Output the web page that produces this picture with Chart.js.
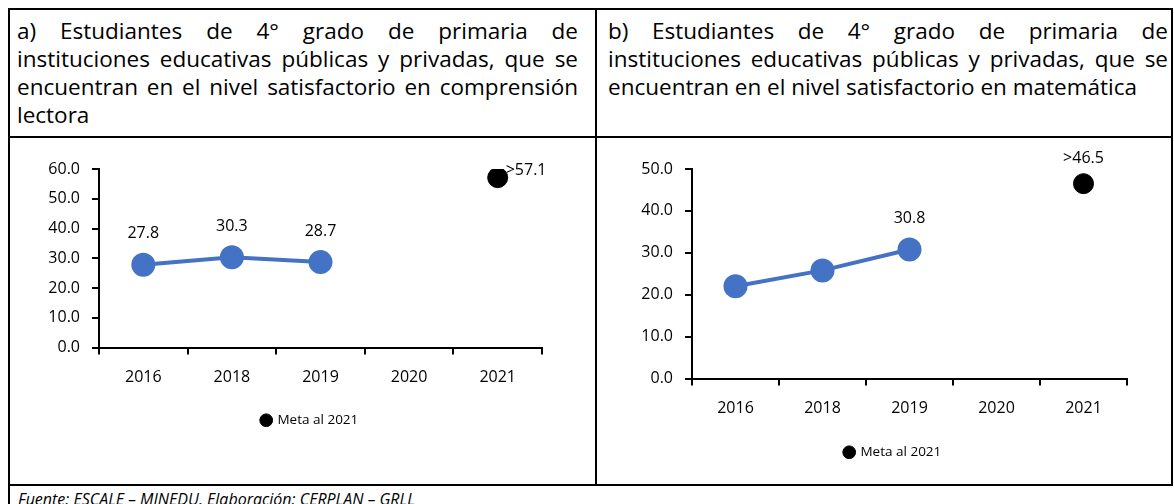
<!DOCTYPE html>
<html>
<head>
<meta charset="utf-8">
<script src="https://cdn.jsdelivr.net/npm/chart.js@4.4.0/dist/chart.umd.min.js"></script>
<style>
  body { margin: 0; width: 1174px; height: 504px; overflow: hidden; background: #fff; position: relative; font-family: "Open Sans", sans-serif; color: #000; }
  .ln { position: absolute; background: #000; }
  .head { position: absolute; top: 17px; font-size: 22.5px; line-height: 28px; white-space: nowrap; }
  .head div { text-align: justify; text-align-last: justify; }
  .head div.last { text-align-last: left; }
  .box { position: absolute; top: 140px; height: 344px; }
  .foot { position: absolute; left: 18px; top: 492px; font-size: 16px; line-height: 15px; font-style: italic; white-space: nowrap; }
</style>
</head>
<body>
<div class="ln" style="left:8px;top:8px;width:1165px;height:2px"></div>
<div class="ln" style="left:8px;top:136px;width:1165px;height:2px"></div>
<div class="ln" style="left:8px;top:484px;width:1165px;height:2px"></div>
<div class="ln" style="left:8px;top:8px;width:2px;height:496px"></div>
<div class="ln" style="left:595px;top:8px;width:2px;height:478px"></div>
<div class="ln" style="left:1171px;top:8px;width:2px;height:478px"></div>

<div class="head" style="left:17px;width:561px">
  <div>a) Estudiantes de 4° grado de primaria de</div>
  <div>instituciones educativas públicas y privadas, que se</div>
  <div>encuentran en el nivel satisfactorio en comprensión</div>
  <div class="last">lectora</div>
</div>
<div class="head" style="left:608px;width:560px">
  <div>b) Estudiantes de 4° grado de primaria de</div>
  <div>instituciones educativas públicas y privadas, que se</div>
  <div class="last">encuentran en el nivel satisfactorio en matemática</div>
</div>

<div class="box" style="left:10px;width:586px"><canvas id="chartA"></canvas></div>
<div class="box" style="left:599px;width:572px"><canvas id="chartB"></canvas></div>

<div class="foot">Fuente: ESCALE – MINEDU. Elaboración: CERPLAN – GRLL</div>

<script>
const years = ['2016', '2018', '2019', '2020', '2021'];
const lectora = [27.8, 30.3, 28.7, null, null];
const lectoraMeta = [null, null, null, null, 57.1];
const lectoraShown = [true, true, true, true, true];
const mate = [22.0, 25.8, 30.8, null, null];
const mateMeta = [null, null, null, null, 46.5];
const mateShown = [false, false, true, false, false];
const metaLabel = 'Meta al 2021';

const azul = '#4472C4';
Chart.defaults.font.family = '"Open Sans", sans-serif';
Chart.defaults.color = '#000';

// etiquetas de datos encima / al lado de los puntos
const etiquetas = {
  id: 'etiquetas',
  afterDatasetsDraw(chart) {
    const ctx = chart.ctx;
    ctx.save();
    ctx.font = '16px "Open Sans", sans-serif';
    ctx.fillStyle = '#000';
    ctx.textBaseline = 'middle';
    chart.data.datasets.forEach((ds, i) => {
      chart.getDatasetMeta(i).data.forEach((pt, j) => {
        const v = ds.data[j];
        if (v == null) return;
        if (ds.shown && !ds.shown[j]) return;
        const txt = (ds.prefix || '') + v.toFixed(1);
        if (ds.side === 'right') {
          ctx.textAlign = 'left';
          ctx.fillText(txt, pt.x + 8, pt.y - 7);
        } else {
          ctx.textAlign = 'center';
          ctx.fillText(txt, pt.x, pt.y - ds.gap);
        }
      });
    });
    ctx.restore();
  }
};

function grafico(id, valores, meta, shown, cfg) {
  const ejeGrid = { drawOnChartArea: false, tickLength: 7, color: '#000', lineWidth: 2 };
  return new Chart(document.getElementById(id), {
    type: 'line',
    data: {
      labels: years,
      datasets: [
        { label: 'Serie', data: valores, borderColor: azul, backgroundColor: azul, borderWidth: 4,
          pointRadius: 10, pointHoverRadius: 10, shown: shown, gap: 31 },
        { label: metaLabel, data: meta, showLine: false, borderColor: '#000', backgroundColor: '#000',
          pointRadius: 10, pointHoverRadius: 10, prefix: '>', side: cfg.metaSide, gap: 25 }
      ]
    },
    options: {
      responsive: true,
      maintainAspectRatio: false,
      animation: false,
      layout: { padding: { left: cfg.padL, right: cfg.padR, top: 29, bottom: cfg.padB } },
      plugins: {
        tooltip: { enabled: false },
        legend: {
          position: 'bottom',
          labels: {
            filter: it => it.datasetIndex === 1,
            usePointStyle: true, pointStyle: 'circle', boxWidth: 9, boxHeight: 9,
            font: { size: 13.5 }, color: '#000', padding: 10
          }
        }
      },
      scales: {
        x: {
          offset: true,
          grid: Object.assign({ offset: true }, ejeGrid),
          border: { color: '#000', width: 2 },
          ticks: { padding: 13, font: { size: 16 }, color: '#000' },
          afterFit: s => { s.height = cfg.xH; }
        },
        y: {
          min: 0, max: cfg.max,
          grid: ejeGrid,
          border: { color: '#000', width: 2 },
          ticks: { stepSize: 10, padding: 12, font: { size: 16 }, color: '#000', callback: v => v.toFixed(1) },
          afterFit: s => { s.width = cfg.yW; }
        },
        // eje vacío a la derecha, solo para centrar la leyenda como en el original
        y2: {
          position: 'right',
          grid: { display: false },
          border: { display: false },
          ticks: { display: false },
          afterFit: s => { s.width = cfg.y2W; }
        }
      }
    },
    plugins: [etiquetas]
  });
}

grafico('chartA', lectora, lectoraMeta, lectoraShown, { max: 60, padL: 36, yW: 53, padR: 22, y2W: 32, padB: 47, xH: 56, metaSide: 'right' });
grafico('chartB', mate, mateMeta, mateShown, { max: 50, padL: 40, yW: 53, padR: 24, y2W: 20, padB: 15, xH: 57, metaSide: 'top' });
</script>
</body>
</html>
